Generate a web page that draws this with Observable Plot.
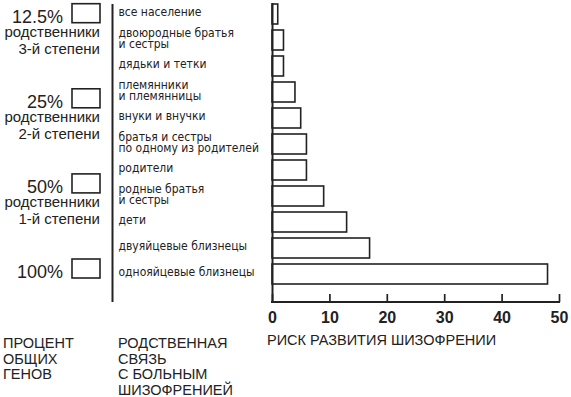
<!DOCTYPE html>
<html><head><meta charset="utf-8">
<script src="https://cdn.jsdelivr.net/npm/d3@7"></script>
<script src="https://cdn.jsdelivr.net/npm/@observablehq/plot@0.6"></script>
<style>
html,body{margin:0;padding:0;background:#fff;}
svg{font-family:"Liberation Sans",Arial,sans-serif;}
</style>
</head><body>
<div id="chart"></div>
<script>
const relations = [
  "все население",
  "двоюродные братья\nи сестры",
  "дядьки и тетки",
  "племянники\nи племянницы",
  "внуки и внучки",
  "братья и сестры\nпо одному из родителей",
  "родители",
  "родные братья\nи сестры",
  "дети",
  "двуяйцевые близнецы",
  "однояйцевые близнецы"
];
const risk = [1, 2, 2, 4, 5, 6, 6, 9, 13, 17, 48];
const genePercent = ["12.5%", "25%", "50%", "100%"];
const geneDegree = ["родственники\n3-й степени", "родственники\n2-й степени", "родственники\n1-й степени", ""];
const xTicks = [0, 10, 20, 30, 40, 50];
const footGenes = "ПРОЦЕНТ\nОБЩИХ\nГЕНОВ";
const footRelation = "РОДСТВЕННАЯ\nСВЯЗЬ\nС БОЛЬНЫМ\nШИЗОФРЕНИЕЙ";
const footRisk = "РИСК РАЗВИТИЯ ШИЗОФРЕНИИ";

const rows = relations.map((name, i) => ({name, risk: risk[i]}));
const ink = "#222";

const W = 571, H = 397, ML = 272, MR = 12, MT = 0, MB = 95;

const plot = Plot.plot({
  width: W, height: H,
  marginLeft: ML, marginRight: MR, marginTop: MT, marginBottom: MB,
  style: {fontFamily: "Liberation Sans, Arial, sans-serif", color: ink, background: "white"},
  x: {domain: [0, 50], axis: null},
  y: {domain: relations, padding: 0.245, paddingOuter: 0.32, align: 0.18, axis: null},
  marks: [
    Plot.barX(rows, {x: "risk", y: "name", fill: "white", stroke: ink, strokeWidth: 1.6}),
    Plot.ruleX([0], {stroke: ink, strokeWidth: 2, insetTop: 3}),
    Plot.ruleX([0], {stroke: ink, strokeWidth: 2, insetTop: 4, dx: -160}),
    Plot.ruleX(xTicks, {x: d => d, stroke: ink, strokeWidth: 1.7, insetTop: 294}),
    Plot.text(xTicks, {x: d => d, text: d => String(d), frameAnchor: "bottom", lineAnchor: "top", dy: 9, fontSize: 16, fontWeight: "bold", fill: ink}),
    Plot.text(rows, {y: "name", text: "name", frameAnchor: "left", textAnchor: "start", dx: -154, dy: -1.5, fontSize: 12, lineHeight: 0.88, fill: ink, fontFamily: "DejaVu Sans Condensed", letterSpacing: 0.15})
  ]
});
document.getElementById("chart").appendChild(plot);

const svg = d3.select(plot);
const x = plot.scale("x"), y = plot.scale("y");
const bw = y.bandwidth;
const yc = name => y.apply(name) + bw / 2;

// bottom axis line
svg.append("line")
  .attr("x1", x.apply(0) - 1).attr("x2", x.apply(50) + 1)
  .attr("y1", H - MB).attr("y2", H - MB)
  .attr("stroke", ink).attr("stroke-width", 2);

// gene-percentage groups, evenly spaced from the first row to the last
const yStart = yc(relations[0]) + 8.7;
const yEnd = yc(relations[relations.length - 1]) + 4;
const step = (yEnd - yStart) / (genePercent.length - 1);
genePercent.forEach((p, i) => {
  const base = yStart + i * step;
  svg.append("text").text(p)
    .attr("x", 63).attr("y", base)
    .attr("text-anchor", "end").attr("font-size", 18).attr("fill", ink);
  svg.append("rect")
    .attr("x", 72).attr("y", base - 19).attr("width", 28).attr("height", 19)
    .attr("fill", "white").attr("stroke", ink).attr("stroke-width", 1.6);
  const lines = geneDegree[i] ? geneDegree[i].split("\n") : [];
  lines.forEach((t, j) => {
    svg.append("text").text(t)
      .attr("x", 100).attr("y", base + 14.5 + j * 16.5)
      .attr("text-anchor", "end").attr("font-size", 15).attr("fill", ink);
  });
});

function block(str, x0, y0, lh) {
  str.split("\n").forEach((t, j) => {
    svg.append("text").text(t)
      .attr("x", x0).attr("y", y0 + j * lh)
      .attr("text-anchor", "start")
      .attr("font-size", 14.5).attr("fill", ink);
  });
}
block(footGenes, 3, 348, 15.5);
block(footRelation, 118, 348, 15.5);
block(footRisk, 267, 345, 15.5);
</script>
</body></html>
